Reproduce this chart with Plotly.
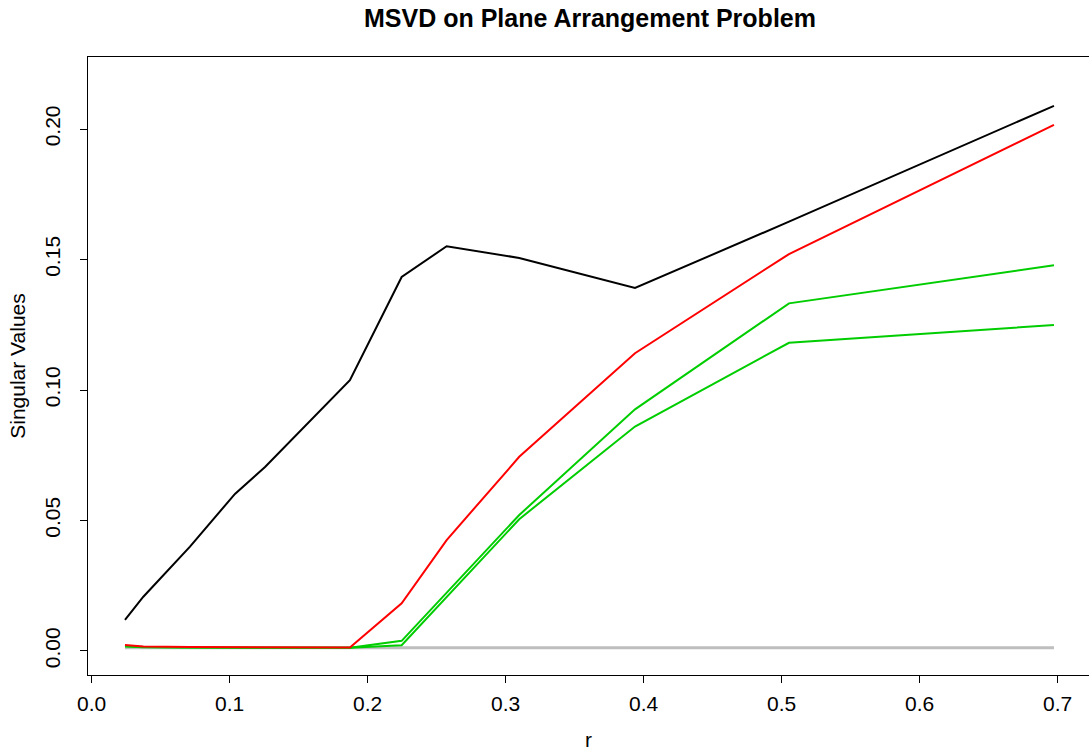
import plotly.graph_objects as go

r = [0.0242, 0.0375, 0.0713, 0.1039, 0.1257, 0.1872, 0.2247, 0.2573, 0.3099, 0.3938, 0.5054, 0.6974]
sv_black = [0.0119, 0.0208, 0.0400, 0.0602, 0.0705, 0.1038, 0.1433, 0.1551, 0.1506, 0.1391, 0.1645, 0.2089]
sv_red = [0.0023, 0.0017, 0.0015, 0.0014, 0.0013, 0.0013, 0.0183, 0.0425, 0.0744, 0.1141, 0.1521, 0.2016]
sv_green1 = [0.0019, 0.0015, 0.0013, 0.0013, 0.0012, 0.0012, 0.0039, 0.0224, 0.0521, 0.0926, 0.1332, 0.1478]
sv_green2 = [0.0017, 0.0014, 0.0013, 0.0012, 0.0012, 0.0012, 0.0022, 0.0207, 0.0505, 0.0860, 0.1181, 0.1249]
sv_gray = [0.0012, 0.0012, 0.0012, 0.0012, 0.0012, 0.0012, 0.0012, 0.0012, 0.0012, 0.0012, 0.0012, 0.0012]

x_ticks = [0.0, 0.1, 0.2, 0.3, 0.4, 0.5, 0.6, 0.7]
x_ticklabels = ["0.0", "0.1", "0.2", "0.3", "0.4", "0.5", "0.6", "0.7"]
y_ticks = [0.0, 0.05, 0.10, 0.15, 0.20]
y_ticklabels = ["0.00", "0.05", "0.10", "0.15", "0.20"]

fig = go.Figure()
series = [
    (sv_gray, "#BEBEBE", 3),
    (sv_green2, "#00CD00", 2),
    (sv_green1, "#00CD00", 2),
    (sv_red, "#FF0000", 2),
    (sv_black, "#000000", 2),
]
for ys, col, w in series:
    fig.add_trace(go.Scatter(x=r, y=ys, mode="lines",
                             line=dict(color=col, width=w), showlegend=False))

font = "Liberation Sans, Arial, sans-serif"
fig.update_layout(
    width=1089, height=751,
    margin=dict(l=88, r=0, t=57, b=76),
    plot_bgcolor="white", paper_bgcolor="white",
    font=dict(family=font, size=21, color="black"),
    title=dict(text="<b>MSVD on Plane Arrangement Problem</b>",
               x=590 / 1089, xanchor="center", y=1 - 18 / 751, yanchor="middle",
               font=dict(size=25, family=font, color="black")),
    xaxis=dict(range=[-0.0026, 0.7228], tickvals=x_ticks, ticktext=x_ticklabels,
               showgrid=False, zeroline=False, showline=True, linecolor="black",
               linewidth=1, mirror=True, ticks="outside", ticklen=7, tickwidth=1,
               tickcolor="black", ticklabelstandoff=3,
               tickfont=dict(size=21),
               title=dict(text="r", standoff=18, font=dict(size=21))),
    yaxis=dict(range=[-0.0092, 0.2276], tickvals=y_ticks, ticktext=y_ticklabels,
               showgrid=False, zeroline=False, showline=True, linecolor="black",
               linewidth=1, mirror=False, ticks="outside", ticklen=7, tickwidth=1,
               tickcolor="black", tickangle=-90, ticklabelstandoff=12,
               tickfont=dict(size=21),
               title=dict(text="Singular Values", standoff=9, font=dict(size=21))),
)

fig.write_html("out.html")
